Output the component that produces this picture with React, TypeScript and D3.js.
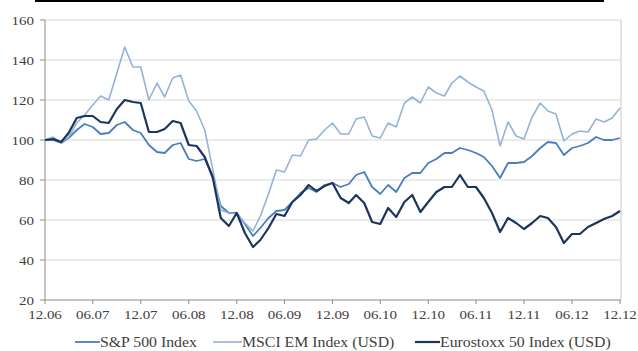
import * as d3 from "d3";

// monthly index levels, Dec 2006 = 100, through Dec 2012
const months = d3.range(73).map((i) => new Date(2006, 11 + i, 1));

const sp500 = [
  100, 100, 98.5, 101, 105, 108, 106.5, 103, 103.5, 107.5, 109, 105, 103.5,
  97.5, 94, 93.5, 97.5, 98.5, 90.5, 89.5, 90.5, 82, 67, 63.5, 63.5,
  58, 52, 56, 61, 64.5, 65, 69, 73.5, 76, 74, 77.5, 78.5,
  76.5, 78, 82.5, 84, 76.5, 73, 77.5, 74, 81, 83.5, 83.5, 88.5,
  90.5, 93.5, 93.5, 96, 95, 93.5, 91.5, 87, 81, 88.5, 88.5, 89,
  92, 96, 99, 98.5, 92.5, 96, 97, 98.5, 101.5, 100, 100, 101,
];

const msciEm = [
  100, 101.5, 98.5, 101.5, 108.5, 112.5, 117.5, 122, 120, 133.5, 146.5, 136.5, 136.5,
  120, 128.5, 121.5, 131, 132.5, 119.5, 114.5, 105, 85, 65, 63.5, 63,
  58.5, 54.5, 62, 73, 85, 84, 92.5, 92, 100, 100.5, 105, 108.5,
  103, 103, 110.5, 111.5, 102, 101, 108.5, 106.5, 118.5, 121.5, 118.5, 126.5,
  123.5, 122, 128.5, 132, 129, 126.5, 124.5, 115, 97, 109, 102, 100.5,
  111.5, 118.5, 114.5, 113, 99.5, 103, 104.5, 104, 110.5, 109, 111, 116,
];

const eurostoxx = [
  100, 100.5, 99, 103.5, 111, 112, 112, 109, 108.5, 115.5, 120, 119, 118.5,
  104, 104, 105.5, 109.5, 108.5, 97.5, 97, 91.5, 81, 61, 57, 63.5,
  53.5, 46.5, 50, 56, 63, 62, 69, 72.5, 77.5, 74.5, 77, 78.5,
  71, 68.5, 72.5, 68.5, 59, 58, 66, 61.5, 69, 72.5, 64, 69,
  74, 76.5, 76.5, 82.5, 76.5, 76.5, 71, 63.5, 54, 61, 58.5, 55.5,
  58.5, 62, 61, 56.5, 48.5, 53, 53, 56.5, 58.5, 60.5, 62, 64.5,
];

const yTicks = [20, 40, 60, 80, 100, 120, 140, 160];
const xTicks = d3.range(0, 73, 6).map((i) => months[i]);

const series = [
  { name: "S&P 500 Index", values: sp500, color: "#4a7ebb", width: 1.8 },
  { name: "MSCI EM Index (USD)", values: msciEm, color: "#95b3d7", width: 1.6 },
  { name: "Eurostoxx 50 Index (USD)", values: eurostoxx, color: "#1c355e", width: 2.2 },
];

const width = 638;
const height = 351;
const left = 45;
const right = 621;
const top = 20;
const bottom = 300;
const font = "'Liberation Serif', serif";
const textColor = "#404040";
const axisColor = "#8c8c8c";

const x = d3.scaleTime().domain([months[0], months[72]]).range([left, right - 1]);
const y = d3.scaleLinear().domain([20, 160]).range([bottom, top]);
const fmt = d3.timeFormat("%m.%y");

const line = d3
  .line<number>()
  .x((_, i) => x(months[i]))
  .y((d) => y(d));

export default function App() {
  const legendX = [100, 242, 440];
  return (
    <svg
      width={width}
      height={height}
      style={{ position: "absolute", left: 0, top: 0, display: "block", background: "#fff" }}
      fontFamily={font}
    >
      {/* underline of the cut-off title */}
      <line x1={35} x2={604} y1={1} y2={1} stroke="#000" strokeWidth={2} />

      {/* gridlines */}
      {yTicks
        .filter((t) => t > 20)
        .map((t) => (
          <line key={t} x1={left} x2={right} y1={y(t)} y2={y(t)} stroke="#d9d9d9" strokeWidth={1.2} />
        ))}
      <line x1={right} x2={right} y1={y(160)} y2={bottom} stroke="#d0d0d0" strokeWidth={1.2} />

      {/* y axis */}
      <line x1={left} x2={left} y1={y(160)} y2={bottom} stroke={axisColor} />
      {yTicks.map((t) => (
        <g key={t} transform={`translate(${left},${y(t)})`}>
          <line x1={-5} x2={0} stroke={axisColor} />
          <text
            transform="translate(-11,4.5) scale(1.2,1)"
            textAnchor="end"
            fontSize={12.5}
            fill={textColor}
          >
            {t}
          </text>
        </g>
      ))}

      {/* x axis */}
      <line x1={left} x2={right} y1={bottom} y2={bottom} stroke={axisColor} />
      {xTicks.map((d) => (
        <g key={+d} transform={`translate(${x(d)},${bottom})`}>
          <line y1={0} y2={4} stroke={axisColor} />
          <text transform="translate(0,19) scale(1.2,1)" textAnchor="middle" fontSize={12.5} fill={textColor}>
            {fmt(d)}
          </text>
        </g>
      ))}

      {/* series */}
      {series.map((s) => (
        <path
          key={s.name}
          d={line(s.values) ?? ""}
          fill="none"
          stroke={s.color}
          strokeWidth={s.width}
          strokeLinejoin="round"
        />
      ))}

      {/* legend */}
      {series.map((s, i) => (
        <g key={s.name} transform={`translate(${legendX[i]},342)`}>
          <line x1={i === 1 ? -29 : -25} x2={0} stroke={s.color} strokeWidth={s.width} />
          <text transform="translate(0,5) scale(1.13,1)" fontSize={14} fill={textColor}>
            {s.name}
          </text>
        </g>
      ))}
    </svg>
  );
}
